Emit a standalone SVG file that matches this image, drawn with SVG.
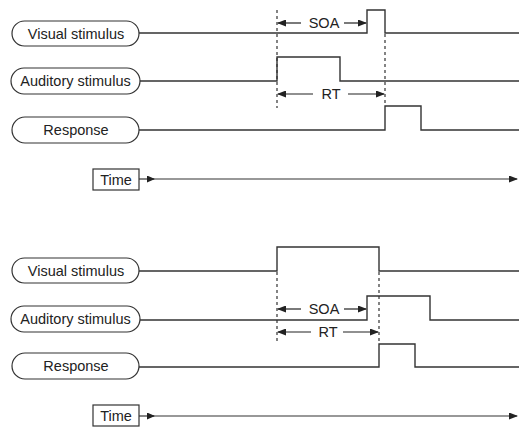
<svg xmlns="http://www.w3.org/2000/svg" width="520" height="428" viewBox="0 0 520 428">
<defs>
<marker id="ah" markerUnits="userSpaceOnUse" markerWidth="9" markerHeight="7" refX="8" refY="3.5" orient="auto-start-reverse"><path d="M0,0 L9,3.5 L0,7 z" fill="#222"/></marker>
<marker id="ahs" markerUnits="userSpaceOnUse" markerWidth="8" markerHeight="7" refX="7" refY="3.5" orient="auto"><path d="M0,0 L8,3.5 L0,7 z" fill="#222"/></marker>
<style>
.pill{fill:#fff;stroke:#333;stroke-width:1.2}
.box{fill:#fff;stroke:#333;stroke-width:1.2}
.t{font-family:"Liberation Sans",Arial,sans-serif;font-size:14.5px;fill:#222;text-anchor:middle}
.sig{fill:none;stroke:#333;stroke-width:1.4}
.dash{fill:none;stroke:#333;stroke-width:1.2;stroke-dasharray:3,3}
.dim{fill:none;stroke:#222;stroke-width:1.2}
.axis{fill:none;stroke:#333;stroke-width:1.2}
</style>
</defs>
<rect width="520" height="428" fill="#fff"/>

<g id="connectors">
<!-- top panel signals -->
<path class="sig" d="M139,33 H367 V10 H385 V33 H519"/>
<path class="sig" d="M140,81 H277 V57 H340 V81 H519"/>
<path class="sig" d="M139,130 H385 V106 H421 V130 H519"/>
<path class="dash" d="M277,10 V108"/>
<path class="dash" d="M385,34 V106"/>
<path class="dim" d="M301,23 H278" marker-end="url(#ah)"/>
<path class="dim" d="M344,23 H366" marker-end="url(#ah)"/>
<path class="dim" d="M313,94 H278" marker-end="url(#ah)"/>
<path class="dim" d="M348,94 H384" marker-end="url(#ah)"/>
<path class="axis" d="M139,179 H154" marker-end="url(#ahs)"/>
<path class="axis" d="M153,179 H517" marker-end="url(#ah)"/>
<!-- bottom panel signals -->
<path class="sig" d="M139,271 H277 V247 H379 V271 H519"/>
<path class="sig" d="M140,320 H367 V296 H430 V320 H519"/>
<path class="sig" d="M139,367 H379 V344 H415 V367 H519"/>
<path class="dash" d="M277,272 V344"/>
<path class="dash" d="M379,272 V344"/>
<path class="dim" d="M301,309 H278" marker-end="url(#ah)"/>
<path class="dim" d="M344,309 H366" marker-end="url(#ah)"/>
<path class="dim" d="M311,332 H278" marker-end="url(#ah)"/>
<path class="dim" d="M343,332 H378" marker-end="url(#ah)"/>
<path class="axis" d="M139,416 H154" marker-end="url(#ahs)"/>
<path class="axis" d="M153,416 H517" marker-end="url(#ah)"/>
</g>

<g id="labels">
<text class="t" x="324" y="28">SOA</text>
<text class="t" x="331" y="99">RT</text>
<text class="t" x="324" y="314">SOA</text>
<text class="t" x="328" y="337">RT</text>
</g>

<g id="top-visual"><rect class="pill" x="12" y="21" width="127" height="25" rx="12.5"/><text class="t" x="76" y="38.5">Visual stimulus</text></g>
<g id="top-auditory"><rect class="pill" x="11" y="68" width="129" height="26" rx="13"/><text class="t" x="75.5" y="86">Auditory stimulus</text></g>
<g id="top-response"><rect class="pill" x="12" y="117" width="127" height="26" rx="13"/><text class="t" x="76" y="135">Response</text></g>
<g id="top-time"><rect class="box" x="93" y="169" width="46" height="21"/><text class="t" x="116" y="184.5">Time</text></g>

<g id="bottom-visual"><rect class="pill" x="12" y="258" width="127" height="25" rx="12.5"/><text class="t" x="76" y="275.5">Visual stimulus</text></g>
<g id="bottom-auditory"><rect class="pill" x="11" y="306" width="129" height="26" rx="13"/><text class="t" x="75.5" y="324">Auditory stimulus</text></g>
<g id="bottom-response"><rect class="pill" x="12" y="353" width="127" height="26" rx="13"/><text class="t" x="76" y="371">Response</text></g>
<g id="bottom-time"><rect class="box" x="93" y="405" width="46" height="21"/><text class="t" x="116" y="420.5">Time</text></g>
</svg>
